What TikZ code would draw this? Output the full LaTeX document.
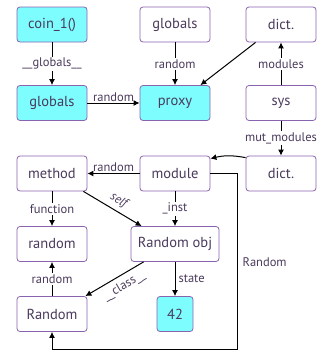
\documentclass[tikz,border=0pt]{standalone}
\usepackage{fontspec}
\setmainfont{PT Sans}
\usetikzlibrary{arrows.meta}
\definecolor{nodeborder}{HTML}{8A63B0}
\definecolor{txt}{HTML}{4A3A5C}
\definecolor{cyanfill}{HTML}{7DFDFE}
\begin{document}
\begin{tikzpicture}[x=1pt,y=-1pt,
  nbox/.style={draw=nodeborder, line width=0.8pt, rounded corners=3pt, minimum width=70pt, minimum height=35pt, inner sep=0pt, text=txt, font=\fontsize{14.5}{16}\selectfont},
  hot/.style={nbox, fill=cyanfill},
  plain/.style={nbox, fill=white},
  conn/.style={draw=black, line width=1pt, -{Latex[length=6pt,width=6pt]}},
  elab/.style={text=txt, font=\fontsize{12.5}{14}\selectfont, inner sep=1.5pt},
  onl/.style={elab, fill=white}]
\useasboundingbox (0,0) rectangle (322,351);
\node[hot] (coin) at (52,24.5) {coin\_1()};
\node[plain] (glob) at (175,24.5) {globals};
\node[plain] (dictA) at (281,24.5) {dict.};
\node[hot] (globc) at (52,103) {globals};
\node[hot] (proxy) at (175,103) {proxy};
\node[plain] (sys) at (281,103) {sys};
\node[plain] (method) at (52,173.5) {method};
\node[plain] (module) at (175,173.5) {module};
\node[plain] (dictB) at (281,173.5) {dict.};
\node[plain] (rand) at (52,244) {random};
\node[plain, minimum width=88pt] (robj) at (175,244) {Random obj};
\node[hot, minimum width=36pt] (n42) at (175,314) {42};
\node[plain] (Rand) at (52,314) {Random};
\coordinate (c1) at (237,349.5);

\draw[conn] (coin) -- node[onl]{\_\_globals\_\_} (globc);
\draw[conn] (glob) -- node[onl]{random} (proxy);
\draw[conn] ([xshift=10pt]dictA.south west) -- ([xshift=-10pt]proxy.north east);
\draw[conn] (globc) -- node[elab, above, inner sep=1pt]{random} (proxy);
\draw[conn] (sys) -- node[onl]{modules} (dictA);
\draw[conn] (sys) -- node[onl]{mut\_modules} (dictB);
\draw[conn] ([yshift=-2pt]dictB.north west) to[bend right=12] ([yshift=-3pt]module.north east);
\draw[conn] (module) -- node[elab, above, inner sep=1pt]{random} (method);
\draw[conn] ([xshift=-4pt]method.south east) -- node[elab, above, sloped, pos=0.53, inner sep=4pt]{\textit{self}} ([xshift=11pt]robj.north west);
\draw[conn] (method) -- node[onl]{function} (rand);
\draw[conn] (module) -- node[onl]{\_inst} (robj);
\draw[conn] (robj) -- node[elab, right, inner sep=3pt]{state} (n42);
\draw[conn] ([xshift=13pt]robj.south west) -- node[elab, below, sloped, pos=0.43, inner sep=5pt]{\_\_class\_\_} ([xshift=-2pt]Rand.north east);
\draw[conn] (Rand) -- node[onl]{random} (rand);
\draw[conn] (module.east) -| (c1) -| (Rand.south);
\node[elab, anchor=west] (lblR) at (241,262) {Random};
\end{tikzpicture}
\end{document}
